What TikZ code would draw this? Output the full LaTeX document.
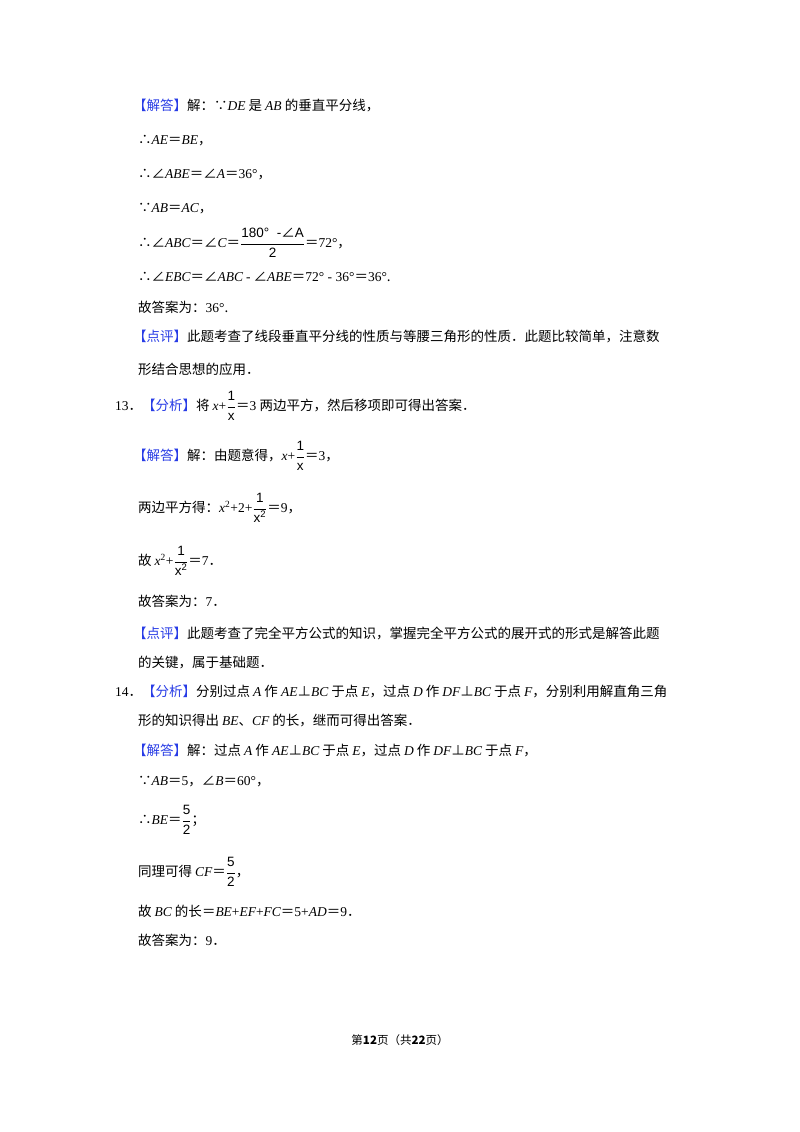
\documentclass[tikz,border=0pt]{standalone}
\usepackage{amsmath}
\usepackage{fontspec}
\setmainfont{Noto Sans CJK SC}
\newfontfamily\lat{Liberation Serif}
\newfontfamily\sfl{Liberation Sans}
\newfontfamily\cjkf{Noto Sans CJK SC}
\newcommand\vv[1]{{\lat\itshape #1}}
\newcommand\rr[1]{{\lat #1}}
\definecolor{tagblue}{RGB}{40,60,230}
\newcommand\tg[1]{{\color{tagblue}【#1】}}
\newcommand\fr[2]{$\dfrac{\text{\sfl #1}}{\text{\sfl #2}}$}
\begin{document}
\begin{tikzpicture}[x=1pt,y=-1pt,every node/.style={anchor=west,inner sep=0pt,font=\fontsize{13.5}{16}\selectfont}]
\useasboundingbox (0,0) rectangle (800,1132);
\fill[white] (0,0) rectangle (800,1132);
\node (l1) at (133,106) {\tg{解答}解：∵\vv{DE} 是 \vv{AB} 的垂直平分线，};
\node (l2) at (138,141) {∴\vv{AE}＝\vv{BE}，};
\node (l3) at (138,175) {∴∠\vv{ABE}＝∠\vv{A}＝\rr{36°}，};
\node (l4) at (138,209) {∵\vv{AB}＝\vv{AC}，};
\node (l5) at (138,243) {∴∠\vv{ABC}＝∠\vv{C}＝\fr{180°\ \ -{\cjkf ∠}A}{2}＝\rr{72°}，};
\node (l6) at (138,277) {∴∠\vv{EBC}＝∠\vv{ABC} \rr{-} ∠\vv{ABE}＝\rr{72° - 36°}＝\rr{36°}.};
\node (l7) at (138,307) {故答案为：\rr{36°}.};
\node (l8) at (133,336) {\tg{点评}此题考查了线段垂直平分线的性质与等腰三角形的性质．此题比较简单，注意数};
\node (l9) at (138,369) {形结合思想的应用．};
\node (m1) at (115,406) {\rr{13}．\tg{分析}将 \vv{x}\rr{+}\fr{1}{x}＝\rr{3} 两边平方，然后移项即可得出答案．};
\node (m2) at (133,456) {\tg{解答}解：由题意得，\vv{x}\rr{+}\fr{1}{x}＝\rr{3}，};
\node (m3) at (138,508) {两边平方得：\vv{x}$^{\text{\rr{2}}}$\rr{+2+}\fr{1}{x\textsuperscript{2}}＝\rr{9}，};
\node (m4) at (138,561) {故 \vv{x}$^{\text{\rr{2}}}$\rr{+}\fr{1}{x\textsuperscript{2}}＝\rr{7}．};
\node (m5) at (138,601) {故答案为：\rr{7}．};
\node (m6) at (133,633) {\tg{点评}此题考查了完全平方公式的知识，掌握完全平方公式的展开式的形式是解答此题};
\node (m7) at (138,663) {的关键，属于基础题．};
\node (n1) at (115,692) {\rr{14}．\tg{分析}分别过点 \vv{A} 作 \vv{AE}⊥\vv{BC} 于点 \vv{E}，过点 \vv{D} 作 \vv{DF}⊥\vv{BC} 于点 \vv{F}，分别利用解直角三角};
\node (n2) at (138,721) {形的知识得出 \vv{BE}、\vv{CF} 的长，继而可得出答案．};
\node (n3) at (133,751) {\tg{解答}解：过点 \vv{A} 作 \vv{AE}⊥\vv{BC} 于点 \vv{E}，过点 \vv{D} 作 \vv{DF}⊥\vv{BC} 于点 \vv{F}，};
\node (n4) at (138,782) {∵\vv{AB}＝\rr{5}，∠\vv{B}＝\rr{60°}，};
\node (n5) at (138,820) {∴\vv{BE}＝\fr{5}{2}；};
\node (n6) at (138,872) {同理可得 \vv{CF}＝\fr{5}{2}，};
\node (n7) at (138,911) {故 \vv{BC} 的长＝\vv{BE}\rr{+}\vv{EF}\rr{+}\vv{FC}＝\rr{5+}\vv{AD}＝\rr{9}．};
\node (n8) at (138,940) {故答案为：\rr{9}．};
\node[anchor=center,font=\fontsize{11.5}{14}\selectfont] (ft) at (400,1040) {第\textbf{12}页（共\textbf{22}页）};
\end{tikzpicture}
\end{document}
